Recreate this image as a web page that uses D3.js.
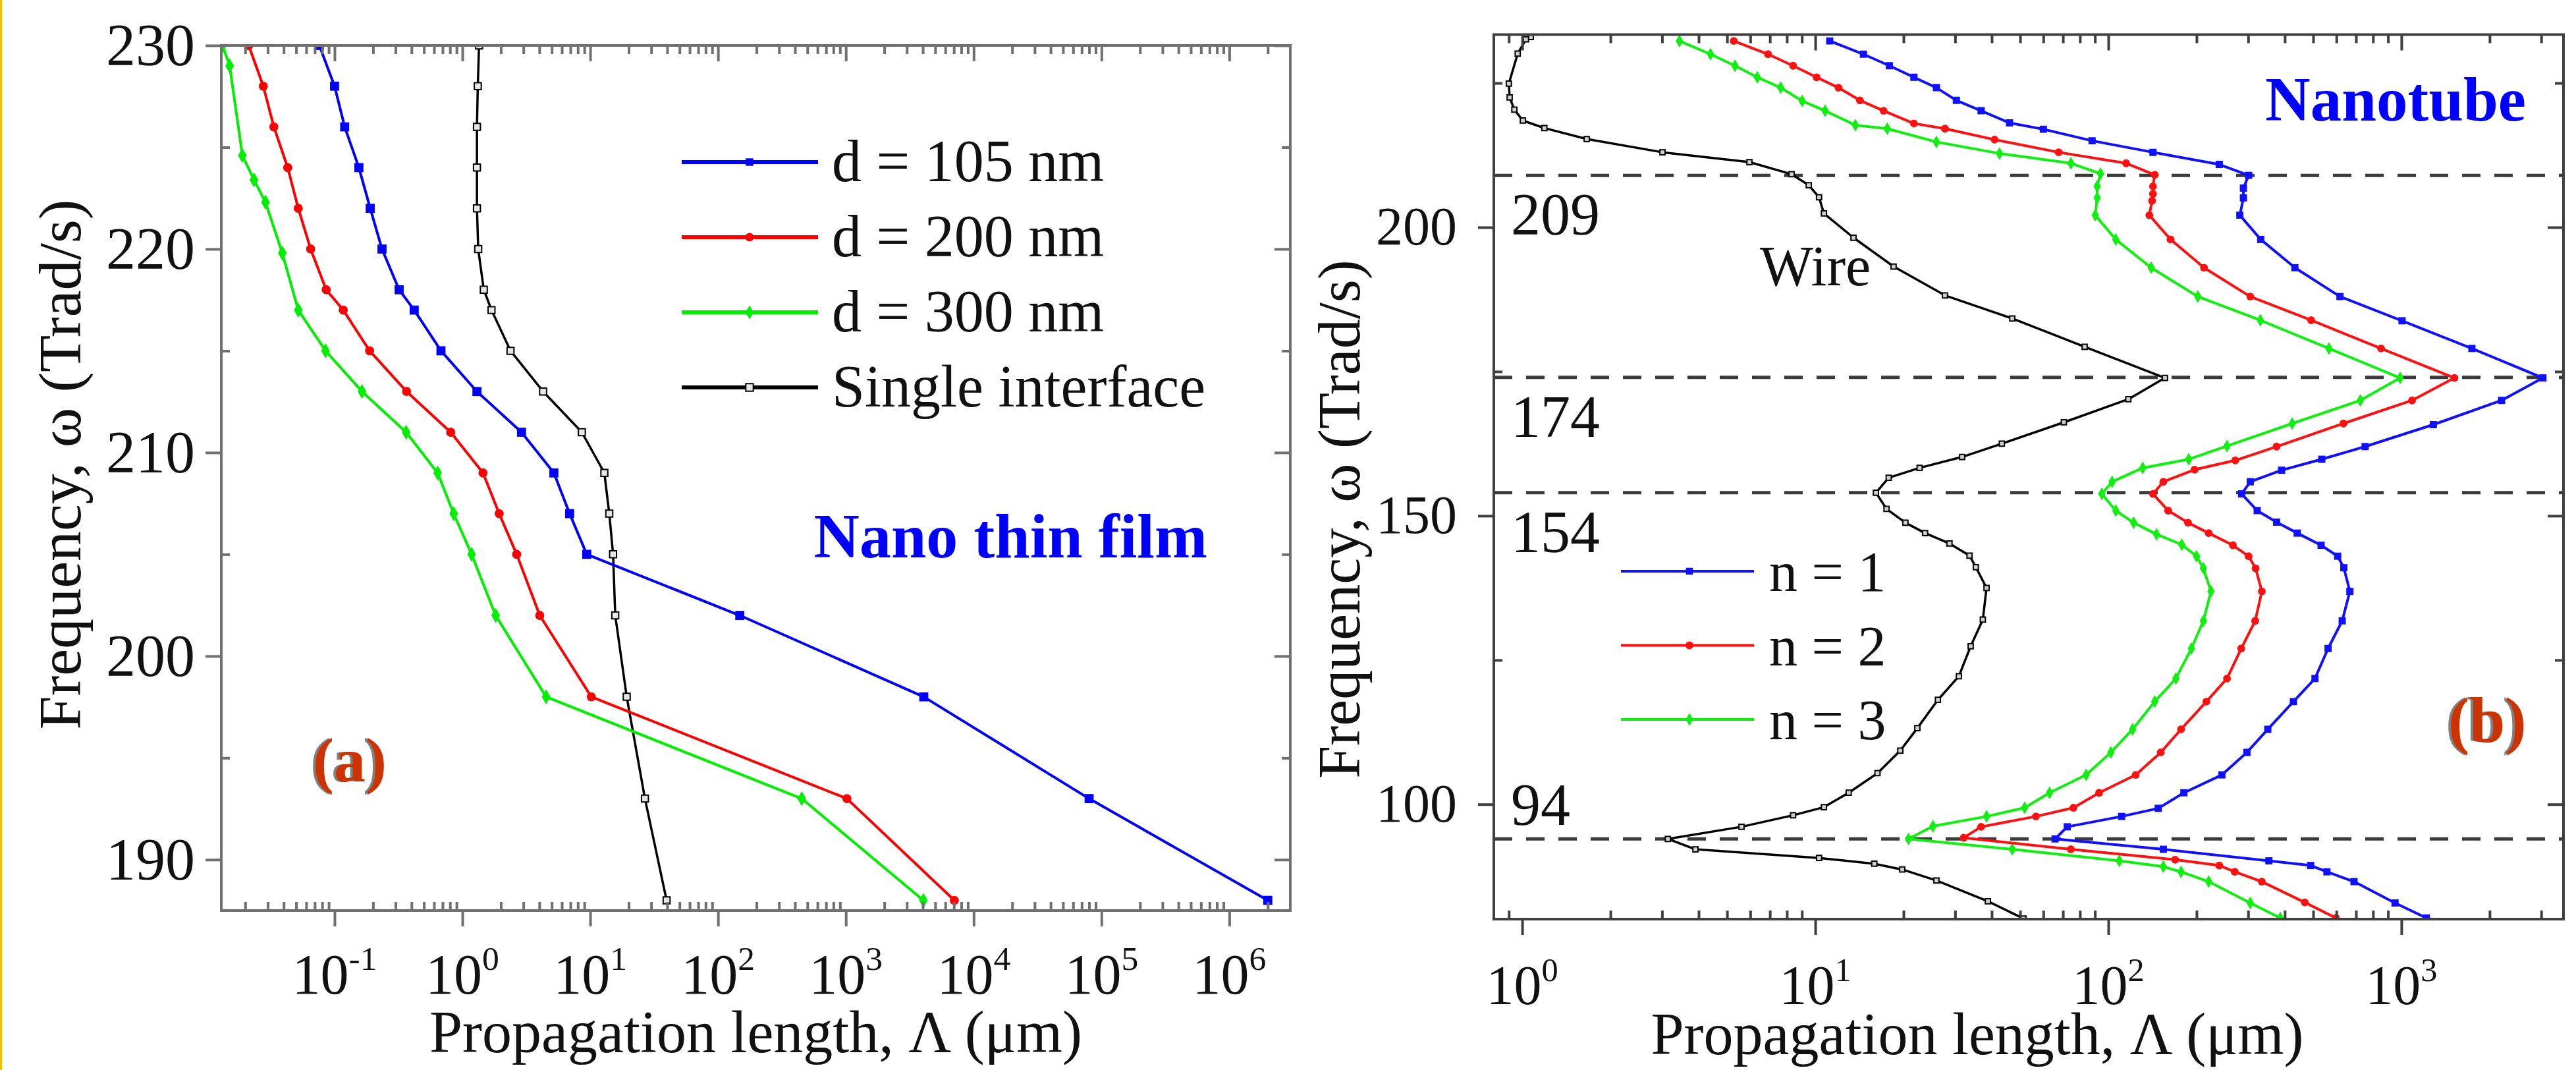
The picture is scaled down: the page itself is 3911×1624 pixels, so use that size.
<!DOCTYPE html>
<html lang="en">
<head>
<meta charset="UTF-8">
<title>Propagation length vs frequency: thin film and nanotube</title>
<style>
  html, body { margin: 0; padding: 0; background: #fff; }
  svg { display: block; font-family: "Liberation Serif", "Times New Roman", serif; }
</style>
</head>
<body>
<svg id="chart" width="3911" height="1624"></svg>
<script src="https://d3js.org/d3.v7.min.js"></script>
<script>
// ---- panel (a): nano thin film, pairs of [omega (Trad/s), Lambda (um)]
const film105 = [[230,0.076],[228,0.1],[226,0.12],[224,0.155],[222,0.19],[220,0.235],[218,0.32],[217,0.42],
  [215,0.68],[213,1.3],[211,2.9],[209,5.2],[207,6.9],[205,9.4],[202,148],[198,4070],[193,8e4],[188,2.0e6]];
const film200 = [[230,0.0213],[228,0.0277],[226,0.0335],[224,0.043],[222,0.052],[220,0.065],[218,0.086],[217,0.117],
  [215,0.188],[213,0.366],[211,0.81],[209,1.45],[207,1.94],[205,2.66],[202,4.03],[198,10.2],[193,1020],[188,7060]];
const film300 = [[230,0.0133],[229,0.0151],[224.6,0.019],[223.4,0.0234],[222.3,0.0288],[219.8,0.039],[217,0.052],
  [215,0.085],[213,0.164],[211,0.363],[209,0.64],[207,0.855],[205,1.18],[202,1.82],[198,4.52],[193,452],[188,4040]];
const singleInterface = [[230,1.35],[228,1.32],[226,1.30],[224,1.30],[222,1.30],[220,1.33],[218,1.47],[217,1.69],
  [215,2.38],[213,4.28],[211,8.6],[209,12.9],[207,14.1],[205,15.1],[202,15.7],[198,19.3],[193,26.8],[188,39.6]];

// ---- panel (b): nanotube, pairs of [omega (Trad/s), Lambda (um)]
const wire = [[233.0,1.07],[232.6,1.03],[230.1,0.965],[224.9,0.90],[222.5,0.906],[220.4,0.94],[218.5,1.005],[217.2,1.19],
  [215.3,1.66],[213.0,3.01],[211.3,5.96],[209.2,8.3],[207.3,9.5],[205.2,10.3],[202.4,10.7],[198.2,13.5],[193.2,18.5],
  [188.2,27.7],[184.2,47],[179.3,83],[173.9,156],[170.2,117],[166.2,70.5],[162.5,43.3],[160.2,31.7],[158.3,22.7],
  [156.6,17.8],[154.0,16.1],[151.2,17.5],[148.8,20.3],[147.0,23.7],[145.2,28.7],[143.1,33.6],[141.1,35.3],[137.5,38.4],
  [132.0,37.3],[127.4,33.9],[122.2,30.9],[118.1,26.2],[113.2,22.3],[109.3,19.5],[105.4,16.3],[102.0,13.0],[99.5,10.7],
  [98.1,8.4],[96.1,5.6],[94.0,3.14],[92.2,3.9],[90.7,10.3],[89.7,15.9],[88.7,19.8],[86.8,25.9],[83.2,38.8],[80.2,51.3]];
const tubeN1 = [[232.3,11.2],[230.0,14.6],[228.0,17.9],[226.0,21.7],[224.2,25.9],[222.0,30.3],[220.2,36.8],[218.1,46],
  [217.0,60],[215.0,88],[213.0,142],[210.9,239],[209.0,301],[206.8,289],[205.1,289],[202.1,281],[197.9,331],[193.0,433],
  [188.0,617],[183.8,1005],[179.0,1740],[173.9,3040],[170.0,2197],[165.8,1285],[162.0,752],[159.8,535],[157.9,390],
  [155.9,305],[153.8,285],[150.9,322],[148.9,375],[147.0,441],[144.9,532],[143.0,606],[141.0,636],[136.9,667],
  [131.8,628],[127.0,562],[121.8,507],[117.8,428],[113.0,350],[109.0,297],[105.1,244],[102.0,181],[99.3,148],
  [97.9,111],[96.1,72.4],[94.0,65.8],[92.2,154],[90.2,353],[89.4,490],[88.3,557],[86.6,689],[82.9,951],[80.3,1217]];
const tubeN2 = [[232.3,5.27],[230.0,6.9],[228.0,8.4],[226.0,10.1],[224.2,12.0],[222.0,14.2],[220.2,17.1],[218.0,21.7],
  [217.1,27.7],[215.2,40.9],[213.0,67.7],[211.1,115],[209.1,144],[207.1,142],[205.8,142],[204.6,141],[202.1,138],
  [197.9,163],[193.0,212],[188.0,305],[183.9,492],[179.0,852],[173.9,1517],[170.0,1087],[166.0,634],[162.0,375],
  [159.6,271],[158.0,197],[155.9,154],[153.8,142],[150.9,160],[148.8,187],[147.0,220],[144.9,266],[143.0,301],
  [140.9,318],[136.9,334],[131.8,317],[127.0,284],[121.8,254],[117.8,216],[113.0,177],[109.0,151],[105.1,124],
  [102.0,93],[99.4,76],[97.9,56.6],[96.1,36.8],[94.2,32.1],[92.2,74.5],[90.4,169],[89.4,239],[88.3,270],[86.6,334],
  [83.0,468],[80.3,598]];
const tubeN3 = [[232.3,3.44],[230.0,4.39],[228.0,5.32],[226.0,6.34],[224.2,7.62],[221.9,9.02],[220.2,10.8],[217.7,13.7],
  [217.1,17.6],[214.8,25.9],[212.8,42.5],[211.1,74.5],[209.3,94],[207.1,91.6],[205.1,91.6],[202.1,90.2],[197.9,106],
  [193.0,140],[188.0,202],[183.9,330],[179.0,566],[173.9,990],[170.0,724],[166.0,424],[162.1,254],[159.8,188],
  [158.3,131],[155.9,103],[153.8,95],[150.9,106],[148.8,122],[146.8,146],[145.0,178],[143.0,200],[140.9,211],
  [136.9,224],[131.8,211],[127.0,192],[121.8,170],[117.8,144],[113.0,121],[109.0,102],[105.1,84],[102.0,63],
  [99.4,51.8],[97.9,38.4],[96.2,25.2],[94.0,20.8],[92.2,47],[90.2,109],[89.2,154],[88.3,177],[86.6,220],[82.9,305],
  [80.3,386]];
const resonances = [209, 174, 154, 94];

// ticks
const aYMajor = [190, 200, 210, 220, 230], aYMinor = [195, 205, 215, 225];
const aXExp = [-1, 0, 1, 2, 3, 4, 5, 6];
const bYMajor = [100, 150, 200], bYMinor = [125, 175, 225];
const bXExp = [0, 1, 2, 3];

const svg = d3.select("#chart");
svg.append("rect").attr("width", 3911).attr("height", 1624).attr("fill", "#fff");
svg.append("rect").attr("x", 0).attr("width", 3).attr("height", 1624).attr("fill", "#f2c200");

function logMinors(lo, hi) {
  const out = [];
  for (let e = Math.floor(Math.log10(lo)); e <= Math.ceil(Math.log10(hi)); e++)
    for (let m = 2; m <= 9; m++) {
      const v = m * Math.pow(10, e);
      if (v > lo && v < hi) out.push(v);
    }
  return out;
}

function frame(g, x, y, xMajor, yMajor, yMinor, color, sw) {
  const [x0, x1] = x.range(), [y1, y0] = y.range();
  const xMinor = logMinors(x.domain()[0], x.domain()[1]);
  const maj = 24, mnr = 13;
  // majors stick out on the bottom/left and in on the top/right, minors always in
  const axes = [
    [d3.axisBottom(x).tickValues(xMajor).tickSize(maj), 0, y1],
    [d3.axisBottom(x).tickValues(xMinor).tickSize(-mnr), 0, y1],
    [d3.axisTop(x).tickValues(xMajor).tickSize(-maj), 0, y0],
    [d3.axisTop(x).tickValues(xMinor).tickSize(-mnr), 0, y0],
    [d3.axisLeft(y).tickValues(yMajor).tickSize(maj), x0, 0],
    [d3.axisLeft(y).tickValues(yMinor).tickSize(-mnr), x0, 0],
    [d3.axisRight(y).tickValues(yMajor).tickSize(-maj), x1, 0],
    [d3.axisRight(y).tickValues(yMinor).tickSize(-mnr), x1, 0]
  ];
  axes.forEach(([ax, tx, ty]) => {
    const a = g.append("g").attr("transform", `translate(${tx},${ty})`)
      .call(ax.tickSizeOuter(0).tickFormat(""));
    a.select(".domain").remove();
    a.selectAll("text").remove();
    a.selectAll("line").attr("stroke", color).attr("stroke-width", sw);
  });
  g.append("rect").attr("x", x0).attr("y", y0).attr("width", x1 - x0).attr("height", y1 - y0)
    .attr("fill", "none").attr("stroke", color).attr("stroke-width", sw);
}

function powLabel(g, x, y, exp, size) {
  const t = g.append("text").attr("x", x).attr("y", y).attr("text-anchor", "middle")
    .attr("font-size", size).attr("fill", "#111");
  t.append("tspan").text("10");
  t.append("tspan").attr("dy", -0.42 * size).attr("font-size", size * 0.6).text(exp < 0 ? "-" + (-exp) : exp);
}

function series(g, x, y, data, color, shape, size, clipId, lw, mfill, mstroke) {
  const line = d3.line().x(d => x(d[1])).y(d => y(d[0]));
  const cg = g.append("g").attr("clip-path", `url(#${clipId})`);
  cg.append("path").datum(data).attr("d", line).attr("fill", "none")
    .attr("stroke", color).attr("stroke-width", lw).attr("stroke-linejoin", "round");
  cg.selectAll(null).data(data).join("path")
    .attr("transform", d => `translate(${x(d[1])},${y(d[0])})`)
    .attr("d", d3.symbol().type(shape).size(size))
    .attr("fill", mfill || color).attr("stroke", mstroke || "none").attr("stroke-width", mstroke ? 2 : 0);
}

function clip(id, x, y) {
  const [x0, x1] = x.range(), [y1, y0] = y.range();
  svg.append("clipPath").attr("id", id).append("rect")
    .attr("x", x0).attr("y", y0).attr("width", x1 - x0).attr("height", y1 - y0);
}

// ================= panel (a)
const xA = d3.scaleLog().domain([0.013, 3e6]).range([336, 1959]);
const yA = d3.scaleLinear().domain([187.5, 230]).range([1382, 69]);
const gA = svg.append("g");
clip("clipA", xA, yA);

series(gA, xA, yA, singleInterface, "#000", d3.symbolSquare, 110, "clipA", 3.5, "#e6e6e6", "#000");
series(gA, xA, yA, film300, "#00ee00", d3.symbolDiamond, 150, "clipA", 4);
series(gA, xA, yA, film200, "#ff0000", d3.symbolCircle, 150, "clipA", 4);
series(gA, xA, yA, film105, "#0000ff", d3.symbolSquare, 190, "clipA", 4);
frame(gA, xA, yA, aXExp.map(e => Math.pow(10, e)), aYMajor, aYMinor, "#707070", 4);

aYMajor.forEach(v => gA.append("text").attr("x", 296).attr("y", yA(v) + 30)
  .attr("text-anchor", "end").attr("font-size", 90).attr("fill", "#111").text(v));
aXExp.forEach(e => powLabel(gA, xA(Math.pow(10, e)), 1508, e, 86));
gA.append("text").attr("x", (336 + 1959) / 2).attr("y", 1597).attr("text-anchor", "middle")
  .attr("font-size", 90).attr("fill", "#111").text("Propagation length, \u039B (\u03BCm)");
gA.append("text").attr("transform", "translate(122,705) rotate(-90)").attr("text-anchor", "middle")
  .attr("font-size", 92).attr("fill", "#111").text("Frequency, \u03C9 (Trad/s)");

const legendA = [
  ["d = 105 nm", "#0000ff", d3.symbolSquare, null],
  ["d = 200 nm", "#ff0000", d3.symbolCircle, null],
  ["d = 300 nm", "#00ee00", d3.symbolDiamond, null],
  ["Single interface", "#000", d3.symbolSquare, "#e6e6e6"]
];
legendA.forEach(([name, c, sh, mf], i) => {
  const ly = 246 + i * 114;
  gA.append("line").attr("x1", 1035).attr("x2", 1242).attr("y1", ly).attr("y2", ly)
    .attr("stroke", c).attr("stroke-width", 6);
  gA.append("path").attr("transform", `translate(1138,${ly})`).attr("d", d3.symbol().type(sh).size(130))
    .attr("fill", mf || c).attr("stroke", mf ? "#000" : "none").attr("stroke-width", 2);
  gA.append("text").attr("x", 1263).attr("y", ly + 29).attr("font-size", 90).attr("fill", "#111").text(name);
});
gA.append("text").attr("x", 1833).attr("y", 846).attr("text-anchor", "end").attr("font-size", 96)
  .attr("font-weight", "bold").attr("fill", "#0000ff").text("Nano thin film");
gA.append("text").attr("x", 471).attr("y", 1186).attr("font-size", 96).attr("font-weight", "bold")
  .attr("fill", "#808080").text("(a)");
gA.append("text").attr("x", 475).attr("y", 1186).attr("font-size", 96).attr("font-weight", "bold")
  .attr("fill", "#cc3300").text("(a)");

// ================= panel (b)
const xB = d3.scaleLog().domain([0.8, 3573]).range([2268, 3892]);
const yB = d3.scaleLinear().domain([80.1, 233.4]).range([1395, 52.5]);
const gB = svg.append("g");
clip("clipB", xB, yB);

gB.selectAll(null).data(resonances).join("line")
  .attr("x1", 2268).attr("x2", 3892).attr("y1", d => yB(d)).attr("y2", d => yB(d))
  .attr("stroke", "#3a3a3a").attr("stroke-width", 5).attr("stroke-dasharray", "28,21");
gB.selectAll(null).data(resonances).join("text")
  .attr("x", 2294).attr("y", d => yB(d) + (d === 94 ? -21 : 90))
  .attr("font-size", 90).attr("fill", "#111").text(d => d);

series(gB, xB, yB, wire, "#000", d3.symbolSquare, 60, "clipB", 3.5, "#d0d0d0", "#000");
series(gB, xB, yB, tubeN3, "#10f010", d3.symbolDiamond, 110, "clipB", 4);
series(gB, xB, yB, tubeN2, "#ff1010", d3.symbolCircle, 110, "clipB", 4);
series(gB, xB, yB, tubeN1, "#1010ff", d3.symbolSquare, 120, "clipB", 4);
frame(gB, xB, yB, bXExp.map(e => Math.pow(10, e)), bYMajor, bYMinor, "#404040", 4);

bYMajor.forEach(v => gB.append("text").attr("x", 2212).attr("y", yB(v) + 26)
  .attr("text-anchor", "end").attr("font-size", 82).attr("fill", "#111").text(v));
bXExp.forEach(e => powLabel(gB, xB(Math.pow(10, e)), 1524, e, 84));
gB.append("text").attr("x", 3002).attr("y", 1600).attr("text-anchor", "middle")
  .attr("font-size", 90).attr("fill", "#111").text("Propagation length, \u039B (\u03BCm)");
gB.append("text").attr("transform", "translate(2064,788) rotate(-90)").attr("text-anchor", "middle")
  .attr("font-size", 90).attr("fill", "#111").text("Frequency, \u03C9 (Trad/s)");
gB.append("text").attr("x", xB(10)).attr("y", yB(190)).attr("text-anchor", "middle")
  .attr("font-size", 86).attr("fill", "#111").text("Wire");

const legendB = [["n = 1", "#1010ff", d3.symbolSquare], ["n = 2", "#ff1010", d3.symbolCircle], ["n = 3", "#10f010", d3.symbolDiamond]];
legendB.forEach(([name, c, sh], i) => {
  const ly = 867 + i * 112.5;
  gB.append("line").attr("x1", 2461).attr("x2", 2663).attr("y1", ly).attr("y2", ly)
    .attr("stroke", c).attr("stroke-width", 4);
  gB.append("path").attr("transform", `translate(2565,${ly})`).attr("d", d3.symbol().type(sh).size(110)).attr("fill", c);
  gB.append("text").attr("x", 2686).attr("y", ly + 30).attr("font-size", 86).attr("fill", "#111").text(name);
});
gB.append("text").attr("x", 3835).attr("y", 183).attr("text-anchor", "end").attr("font-size", 95)
  .attr("font-weight", "bold").attr("fill", "#0000ff").text("Nanotube");
gB.append("text").attr("x", 3713).attr("y", 1126).attr("font-size", 97).attr("font-weight", "bold")
  .attr("fill", "#808080").text("(b)");
gB.append("text").attr("x", 3717).attr("y", 1126).attr("font-size", 97).attr("font-weight", "bold")
  .attr("fill", "#cc3300").text("(b)");
</script>
</body>
</html>
